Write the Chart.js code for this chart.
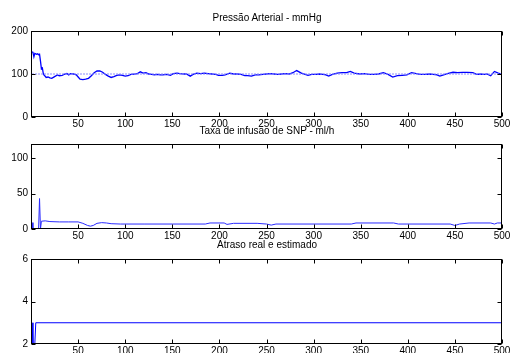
<!DOCTYPE html>
<html>
<head>
<meta charset="utf-8">
<script src="https://cdn.jsdelivr.net/npm/chart.js@4"></script>
<style>
  body { margin: 0; background: #fff; }
  #wrap { position: relative; width: 510px; height: 353px; overflow: hidden; background: #fff; }
  canvas { position: absolute; left: 0; }
  .tit { position: absolute; left: 32px; width: 470px; text-align: center; white-space: nowrap;
         font: 10px "Liberation Sans", Arial, sans-serif; line-height: 12px; color: #000; }
</style>
</head>
<body>
<div id="wrap">
  <canvas id="c1" width="510" height="140" style="top:0px"></canvas>
  <canvas id="c2" width="510" height="118" style="top:134px"></canvas>
  <canvas id="c3" width="510" height="104" style="top:249px"></canvas>
  <div class="tit" style="top:12px">Pressão Arterial - mmHg</div>
  <div class="tit" style="top:125px">Taxa de infusão de SNP - ml/h</div>
  <div class="tit" style="top:239px">Atraso real e estimado</div>
</div>
<script>
// tick labels
const xTicks = [50, 100, 150, 200, 250, 300, 350, 400, 450, 500];
const bpTicks = [0, 100, 200];
const snpTicks = [0, 50, 100];
const atrasoTicks = [2, 4, 6];

// pressao arterial (mmHg)
const bpX = [
  1, 2, 3, 4, 5, 6, 7, 8, 9, 10,
  11, 12, 13, 14, 15, 16, 18, 20, 22, 25,
  28, 30, 33, 35, 38, 40, 42, 45, 48, 50,
  52, 55, 58, 61, 64, 67, 70, 73, 76, 79,
  82, 85, 88, 91, 94, 97, 100, 103, 106, 110,
  113, 116, 119, 122, 125, 128, 131, 134, 137, 140,
  144, 148, 151, 155, 158, 162, 165, 169, 172, 176,
  180, 184, 188, 192, 196, 199, 203, 206, 211, 215,
  219, 223, 227, 230, 234, 238, 242, 246, 250, 254,
  258, 262, 266, 270, 274, 278, 282, 287, 291, 294,
  298, 302, 306, 310, 313, 316, 320, 325, 330, 335,
  339, 343, 349, 354, 359, 364, 369, 374, 379, 384,
  389, 394, 399, 404, 409, 413, 418, 423, 427, 431,
  434, 438, 442, 448, 453, 458, 463, 469, 473, 477,
  481, 484, 488, 492, 496, 500
];
const bpY = [
  152, 150, 140, 148, 147, 146, 147, 145, 146, 130,
  112, 114, 101, 97, 95, 92, 93, 91, 90, 94,
  98, 96, 97, 99, 101, 98, 101, 100, 98, 93,
  88, 87, 88, 90, 96, 103, 107, 107, 104, 99,
  95, 92, 94, 97, 98, 97, 95, 96, 99, 100,
  101, 105, 102, 103, 100, 99, 98, 99, 98, 98,
  99, 97, 101, 102, 101, 100, 100, 95, 99, 102,
  101, 102, 101, 100, 99, 97, 97, 98, 102, 100,
  100, 99, 96, 96, 95, 98, 98, 99, 100, 101,
  100, 99, 100, 101, 100, 103, 108, 102, 99, 97,
  99, 99, 100, 99, 98, 95, 99, 102, 103, 103,
  106, 102, 100, 101, 99, 99, 100, 103, 99, 93,
  96, 97, 98, 103, 101, 99, 99, 100, 99, 98,
  95, 98, 101, 104, 103, 104, 104, 103, 99, 100,
  99, 100, 96, 106, 102, 99
];
const refX = [1, 500];
const refY = [100, 100];

// taxa de infusao de SNP (ml/h)
const snpX = [1, 2, 8, 9, 10, 11, 15, 20, 30, 40, 50, 55, 60, 63, 66, 70, 75, 80, 85, 95,
  120, 150, 185, 190, 205, 208, 215, 240, 250, 255, 260, 340, 345, 385, 390, 445, 450, 455, 465, 488,
  492, 495, 500];
const snpY = [9, 0, 0, 43, 0, 11, 11.5, 10.5, 10, 10, 10, 8, 5, 4, 5, 8, 9, 8.5, 7.5, 7,
  7, 7, 7, 8.5, 8.5, 6.5, 8, 8, 7, 5.5, 7, 7, 8.5, 8.5, 7, 7, 5, 7, 8.5, 8.5,
  7, 8.5, 8.5];

// atraso
const atrasoX = [1, 2, 4, 5, 500];
const atrasoY = [3, 2, 2, 3, 3];

Chart.defaults.font.family = '"Liberation Sans", Arial, sans-serif';
Chart.defaults.font.size = 10;
Chart.defaults.color = '#000';

const pts = (xs, ys) => xs.map((x, i) => ({ x: x, y: ys[i] }));

// box around the axes with inward ticks, like matlab
const boxPlugin = {
  id: 'matlabBox',
  afterDraw(chart) {
    const { ctx, chartArea: a, scales } = chart;
    const l = Math.round(a.left) - 0.5, r = Math.round(a.right) - 0.5;
    const t = Math.round(a.top) + 0.5, b = Math.round(a.bottom) - 0.5;
    ctx.save();
    ctx.strokeStyle = '#000';
    ctx.lineWidth = 1;
    ctx.strokeRect(l, t, r - l, b - t);
    ctx.beginPath();
    scales.x.ticks.forEach(tk => {
      const px = Math.round(scales.x.getPixelForValue(tk.value)) + 0.5;
      ctx.moveTo(px, b); ctx.lineTo(px, b - 4);
      ctx.moveTo(px, t); ctx.lineTo(px, t + 4);
    });
    scales.y.ticks.forEach(tk => {
      const py = Math.round(scales.y.getPixelForValue(tk.value)) + 0.5;
      ctx.moveTo(l, py); ctx.lineTo(l + 4, py);
      ctx.moveTo(r, py); ctx.lineTo(r - 4, py);
    });
    ctx.stroke();
    ctx.restore();
  }
};

function makeChart(id, datasets, yMin, yMax, yTicks, padTop, xAxisH) {
  new Chart(document.getElementById(id), {
    type: 'line',
    data: { datasets: datasets },
    options: {
      responsive: false,
      animation: false,
      devicePixelRatio: 1,
      layout: { padding: { top: padTop, left: 0, right: 8, bottom: 0 } },
      plugins: { legend: { display: false }, tooltip: { enabled: false } },
      elements: { point: { radius: 0 }, line: { tension: 0, borderWidth: 1 } },
      scales: {
        x: {
          type: 'linear', min: 1, max: 500,
          grid: { display: false, drawTicks: false }, border: { display: false },
          ticks: { padding: 1, autoSkip: false, maxRotation: 0 },
          afterBuildTicks: s => { s.ticks = xTicks.map(v => ({ value: v })); },
          afterFit: s => { s.height = xAxisH; s.paddingLeft = 0; s.paddingRight = 0; }
        },
        y: {
          type: 'linear', min: yMin, max: yMax,
          grid: { display: false, drawTicks: false }, border: { display: false },
          ticks: { padding: 4, autoSkip: false },
          afterBuildTicks: s => { s.ticks = yTicks.map(v => ({ value: v })); },
          afterFit: s => { s.width = 32; s.paddingTop = 0; s.paddingBottom = 0; }
        }
      }
    },
    plugins: [boxPlugin]
  });
}

makeChart('c1', [
  { data: pts(refX, refY), borderColor: '#8c8cff', borderDash: [2, 1] },
  { data: pts(bpX, bpY), borderColor: '#0000ff', borderWidth: 1.3 }
], 0, 200, bpTicks, 31, 23);

makeChart('c2', [
  { data: pts(snpX, snpY), borderColor: '#2a2aff' }
], 0, 120, snpTicks, 10, 23);

makeChart('c3', [
  { data: pts(atrasoX, atrasoY), borderColor: '#0000ff' }
], 2, 6, atrasoTicks, 10, 9);
</script>
</body>
</html>
